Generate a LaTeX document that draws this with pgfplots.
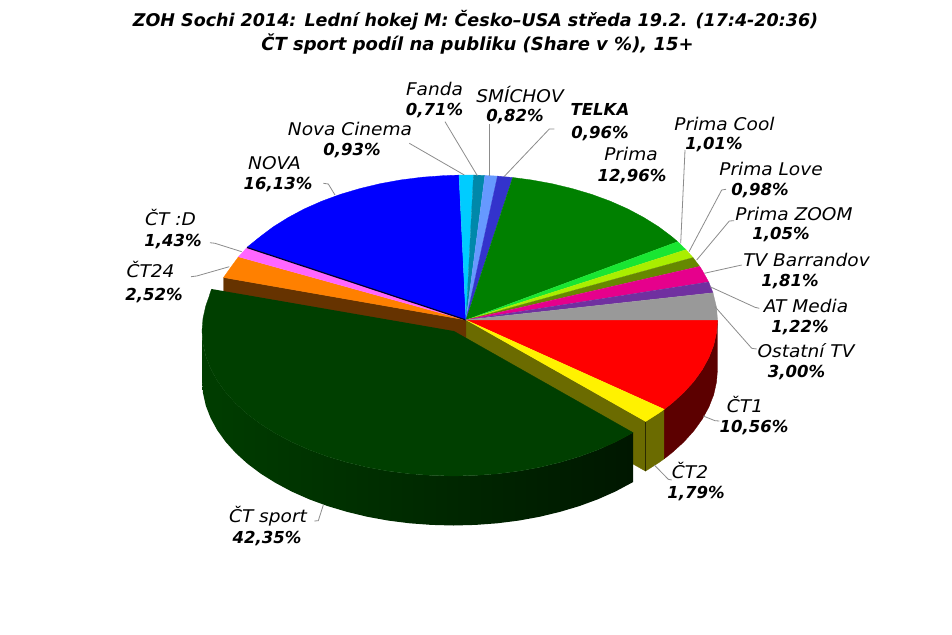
\documentclass[border=0pt]{standalone}
\usepackage{fontspec}
\setmainfont[ItalicFont={DejaVu Sans Oblique},BoldItalicFont={DejaVu Sans Bold Oblique},BoldFont={DejaVu Sans Bold}]{DejaVu Sans}
\newfontfamily\lf[Ligatures=TeX,FakeStretch=1.06]{DejaVu Sans Oblique}
\newfontfamily\pf[Ligatures=TeX]{DejaVu Sans Bold Oblique}
\usepackage{pgfplots}
\pgfplotsset{compat=1.18}
\definecolor{cSportTop}{HTML}{003F00}
\definecolor{cRedS}{HTML}{5C0000}
\definecolor{cOlive}{HTML}{6B6B00}
\definecolor{cBrown}{HTML}{663300}
\definecolor{cOrange}{HTML}{FF8000}
\definecolor{cPink}{HTML}{FF66FF}
\definecolor{cCin}{HTML}{00CCFF}
\definecolor{cFan}{HTML}{0088AA}
\definecolor{cSmi}{HTML}{6699FF}
\definecolor{cTel}{HTML}{3333CC}
\definecolor{cPri}{HTML}{008000}
\definecolor{cCool}{HTML}{19E632}
\definecolor{cLove}{HTML}{AAEE00}
\definecolor{cZoom}{HTML}{668800}
\definecolor{cBar}{HTML}{E6008C}
\definecolor{cAT}{HTML}{7030A0}
\definecolor{cOst}{HTML}{999999}
\definecolor{cLead}{HTML}{8C8C8C}
\pgfplotsset{sl/.style={fill=#1,draw=#1,line width=0.3pt}, ld/.style={draw=cLead,line width=0.8pt}}
\newcommand{\lab}[6]{%
  \node[anchor=base,inner sep=0pt] at (axis cs:#1,#2) {\fontsize{17.5}{20}\selectfont\lf #3};
  \node[anchor=base,inner sep=0pt] at (axis cs:#4,#5) {\fontsize{16.5}{20}\selectfont\pf #6};
}
\begin{document}
\begin{tikzpicture}
\path[use as bounding box,fill=white] (0,0) rectangle (952pt,634pt);
\begin{axis}[at={(0,0)},anchor=south west,width=952pt,height=634pt,scale only axis,
  xmin=0,xmax=952,ymin=0,ymax=634,y dir=reverse,axis lines=none,clip=false,no markers]
% side of CT1
\addplot[sl=cRedS] coordinates {(717.5,320)(716.5,332.6)(713.7,345.2)(708.9,357.5)(702.3,369.6)(693.9,381.3)(683.8,392.5)(672,403.2)(664.2,409.3)(664.2,458.8)(672,452.7)(683.8,442)(693.9,430.8)(702.3,419.1)(708.9,407)(713.7,394.7)(716.5,382.1)(717.5,369.5)};
% side of CT2 and the exposed walls
\addplot[sl=cOlive] coordinates {(664.2,409.3)(658.7,413.2)(645.5,421.6)(645.5,471.1)(658.7,462.7)(664.2,458.8)};
\addplot[sl=cOlive] coordinates {(466,320)(645.5,421.6)(645.5,471.1)(466,369.5)};
\addplot[draw=black!60!cOlive,line width=0.5pt] coordinates {(645.5,421.6)(645.5,471.1)};
\addplot[sl=cBrown] coordinates {(466,320)(223.5,277.5)(223.5,327.5)(466,369.5)};
% top faces
\addplot[sl=red] coordinates {(466,320)(717.5,320)(716.5,332.6)(713.7,345.2)(708.9,357.5)(702.3,369.6)(693.9,381.3)(683.8,392.5)(672,403.2)(664.2,409.3)};
\addplot[sl=yellow] coordinates {(466,320)(664.2,409.3)(658.7,413.2)(645.5,421.6)};
\addplot[sl=cOrange] coordinates {(466,320)(223.5,277.5)(231,267)(238.5,256.8)};
\addplot[sl=cPink] coordinates {(466,320)(238.5,256.8)(246.7,247.8)};
\addplot[sl=blue] coordinates {(466,320)(247,247.3)(260,236.8)(273.3,226.8)(288.2,217.5)(304.3,208.9)(321.7,201.2)(340.2,194.4)(359.7,188.6)(380,183.7)(400.9,179.9)(422.3,177.2)(444.1,175.6)(459,175.1)};
\addplot[draw=black!85!blue,line width=1.2pt] coordinates {(466,320)(247,247.5)};
\addplot[sl=cCin] coordinates {(466,320)(459,175.1)(473.5,175)};
\addplot[sl=cFan] coordinates {(466,320)(473.5,175)(484.9,175.4)};
\addplot[sl=cSmi] coordinates {(466,320)(484.9,175.4)(497.5,176.1)};
\addplot[sl=cTel] coordinates {(466,320)(497.5,176.1)(512.7,177.5)};
\addplot[sl=cPri] coordinates {(466,320)(512.7,177.5)(531.1,179.9)(552,183.7)(572.3,188.6)(591.8,194.4)(610.3,201.2)(627.7,208.9)(643.8,217.5)(658.7,226.8)(672,236.8)(677.7,241.7)};
\addplot[sl=cCool] coordinates {(466,320)(677.7,241.7)(686,249.7)};
\addplot[sl=cLove] coordinates {(466,320)(686,249.7)(693,257.6)};
\addplot[sl=cZoom] coordinates {(466,320)(693,257.6)(699.7,266.4)};
\addplot[sl=cBar] coordinates {(466,320)(699.7,266.4)(702.3,270.4)(708.7,282)};
\addplot[sl=cAT] coordinates {(466,320)(708.7,282)(713,292.8)};
\addplot[sl=cOst] coordinates {(466,320)(713,292.8)(716.5,307.4)(717.5,320)};
% exploded CT sport: side
\addplot[left color=green!24!black,right color=green!9!black,draw=none] coordinates {(633,432.6)(615.2,442.1)(597.8,449.8)(579.3,456.6)(559.8,462.4)(539.5,467.3)(518.6,471.1)(497.2,473.8)(475.4,475.4)(453.5,476)(431.6,475.4)(409.8,473.8)(388.4,471.1)(367.5,467.3)(347.2,462.4)(327.7,456.6)(309.2,449.8)(291.8,442.1)(275.7,433.5)(260.8,424.2)(247.5,414.2)(235.7,403.5)(225.6,392.3)(217.2,380.6)(210.6,368.5)(205.8,356.2)(203,343.6)(202,331)(202,380.5)(203,393.1)(205.8,405.7)(210.6,418)(217.2,430.1)(225.6,441.8)(235.7,453)(247.5,463.7)(260.8,473.7)(275.7,483)(291.8,491.6)(309.2,499.3)(327.7,506.1)(347.2,511.9)(367.5,516.8)(388.4,520.6)(409.8,523.3)(431.6,524.9)(453.5,525.5)(475.4,524.9)(497.2,523.3)(518.6,520.6)(539.5,516.8)(559.8,511.9)(579.3,506.1)(597.8,499.3)(615.2,491.6)(633,482.1)};
% exploded CT sport: top
\addplot[sl=cSportTop] coordinates {(453.5,331)(633,432.6)(615.2,442.1)(597.8,449.8)(579.3,456.6)(559.8,462.4)(539.5,467.3)(518.6,471.1)(497.2,473.8)(475.4,475.4)(453.5,476)(431.6,475.4)(409.8,473.8)(388.4,471.1)(367.5,467.3)(347.2,462.4)(327.7,456.6)(309.2,449.8)(291.8,442.1)(275.7,433.5)(260.8,424.2)(247.5,414.2)(235.7,403.5)(225.6,392.3)(217.2,380.6)(210.6,368.5)(205.8,356.2)(203,343.6)(202,331)(203,318.4)(205.8,305.8)(208.6,298)(211.5,289)};
% leader lines
\addplot[ld] coordinates {(445,121.7)(477.3,175.7)};
\addplot[ld] coordinates {(489.3,124)(489.3,175.7)};
\addplot[ld] coordinates {(554.3,129)(549.3,129)(504,176.7)};
\addplot[ld] coordinates {(409.3,143.3)(464.3,175)};
\addplot[ld] coordinates {(685,150)(680.7,243.3)};
\addplot[ld] coordinates {(726,189.3)(721.7,190)(689,251.7)};
\addplot[ld] coordinates {(734,220.7)(729.3,221)(696.7,260)};
\addplot[ld] coordinates {(741.7,265)(704.3,273.3)};
\addplot[ld] coordinates {(759.3,308.3)(755,307.3)(710,286.7)};
\addplot[ld] coordinates {(756.7,349)(751.7,348.3)(715,306.7)};
\addplot[ld] coordinates {(719.3,421)(715,420.7)(703.3,416)};
\addplot[ld] coordinates {(671.7,480)(668.3,479.3)(654.3,465)};
\addplot[ld] coordinates {(314.3,521)(318.3,520.7)(323.3,505)};
\addplot[ld] coordinates {(323.3,183.3)(328.3,184)(335,195)};
\addplot[ld] coordinates {(210,242.7)(215,243.3)(241.7,251.7)};
\addplot[ld] coordinates {(191,276.7)(196.7,276)(229.3,266.7)};
% labels
\lab{434.5}{96}{Fanda}{434.5}{116}{0,71\%}
\lab{520}{102.7}{SMÍCHOV}{515}{121.7}{0,82\%}
\node[anchor=base,inner sep=0pt] at (axis cs:600,116) {\fontsize{16.5}{20}\selectfont\pf TELKA};
\node[anchor=base,inner sep=0pt] at (axis cs:600,138) {\fontsize{16.5}{20}\selectfont\pf 0,96\%};
\lab{631}{160}{Prima}{632}{181.5}{12,96\%}
\lab{724.5}{130}{Prima Cool}{714}{149.5}{1,01\%}
\lab{771}{175}{Prima Love}{760}{195.7}{0,98\%}
\lab{794}{220}{Prima ZOOM}{781}{239}{1,05\%}
\lab{806.5}{266}{TV Barrandov}{790}{286}{1,81\%}
\lab{806}{312}{AT Media}{800}{332.7}{1,22\%}
\lab{806}{357.7}{Ostatní TV}{796.5}{377.7}{3,00\%}
\lab{745}{412}{ČT1}{754}{432}{10,56\%}
\lab{690}{478}{ČT2}{696}{498}{1,79\%}
\lab{268}{522}{ČT sport}{267}{543}{42,35\%}
\lab{350}{135.7}{Nova Cinema}{352}{155}{0,93\%}
\lab{274.5}{169.3}{NOVA}{278}{189.3}{16,13\%}
\lab{170.5}{225}{ČT :D}{173}{246.7}{1,43\%}
\lab{150.5}{277.7}{ČT24}{154}{300}{2,52\%}
\node[anchor=base,inner sep=0pt] at (axis cs:475.5,27) {\fontsize{17.5}{20}\selectfont\pf ZOH Sochi 2014: Lední hokej M: Česko--USA středa 19.2. (17:4-20:36)};
\node[anchor=base,inner sep=0pt] at (axis cs:477.5,50.5) {\fontsize{18}{20}\selectfont\pf ČT sport podíl na publiku (Share v \%), 15+};
\end{axis}
\end{tikzpicture}
\end{document}
